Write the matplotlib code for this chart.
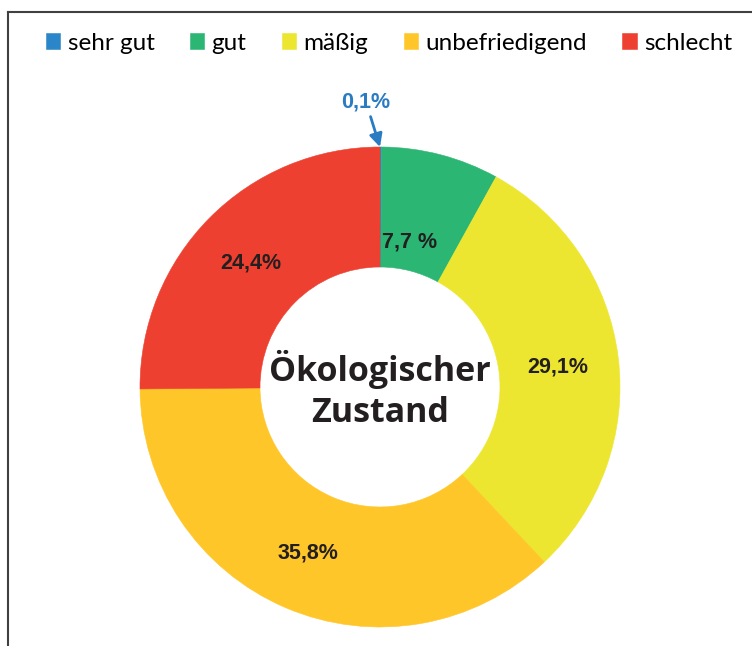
import matplotlib.pyplot as plt
from matplotlib.lines import Line2D

categories = ["sehr gut", "gut", "mäßig", "unbefriedigend", "schlecht"]
shares = [0.1, 7.7, 29.1, 35.8, 24.4]
labels = ["0,1%", "7,7 %", "29,1%", "35,8%", "24,4%"]
colors = ["#2a86c8", "#2bb673", "#ede630", "#ffc629", "#ee4030"]

W, H = 752, 646
fig = plt.figure(figsize=(W / 100, H / 100), dpi=100)
fig.patch.set_facecolor("white")

# pie centre at (380, 387) px, radius 240 px
cx, cy, r = 380, 387, 240
ax = fig.add_axes([(cx - r) / W, (H - cy - r) / H, 2 * r / W, 2 * r / H])
wedges, _ = ax.pie(shares, colors=colors, startangle=90, counterclock=False,
                   radius=1, wedgeprops=dict(width=0.5, linewidth=0))
for w in wedges:
    w.set_edgecolor(w.get_facecolor())
    w.set_linewidth(0.4)
ax.set_xlim(-1, 1)
ax.set_ylim(-1, 1)
ax.set_aspect("equal")
ax.axis("off")

def px(x, y):
    return (x - cx) / r, (cy - y) / r

lab_pos = [None, (410, 242), (558, 367), (308, 553), (251, 263)]
for lab, pos in zip(labels[1:], lab_pos[1:]):
    ax.text(*px(*pos), lab, ha="center", va="center", fontsize=15.5,
            fontweight="bold", family="Liberation Sans", color="#231f20")

# tiny slice gets an arrow label
ax.annotate(labels[0], xy=(0, 1.0), xytext=px(366, 102), ha="center", va="center",
            fontsize=15.5, fontweight="bold", family="Liberation Sans", color="#2a7cc2",
            arrowprops=dict(arrowstyle="-|>,head_length=0.5,head_width=0.25", color="#2a7cc2",
                            lw=2, shrinkA=1, shrinkB=0),
            annotation_clip=False)

ax.text(0, px(0, 390)[1], "Ökologischer\nZustand", ha="center", va="center",
        fontsize=24.5, fontweight="bold", family="Open Sans", color="#231f20",
        linespacing=1.25)

leg = fig.legend(wedges, categories, loc="upper left", bbox_to_anchor=(36 / W, 1 - 23 / H),
                 ncol=5, frameon=False, handlelength=0.6, handleheight=0.6,
                 handletextpad=0.3, columnspacing=1.45, borderaxespad=0,
                 prop=dict(family="Lato", size=17.5))

# frame lines (top and left only visible)
fig.add_artist(Line2D([8 / W, 1], [1 - 12 / H, 1 - 12 / H], color="#404040", lw=1.5))
fig.add_artist(Line2D([8 / W, 8 / W], [0, 1 - 12 / H], color="#404040", lw=1.5))

fig.savefig("out.png", dpi=100)
